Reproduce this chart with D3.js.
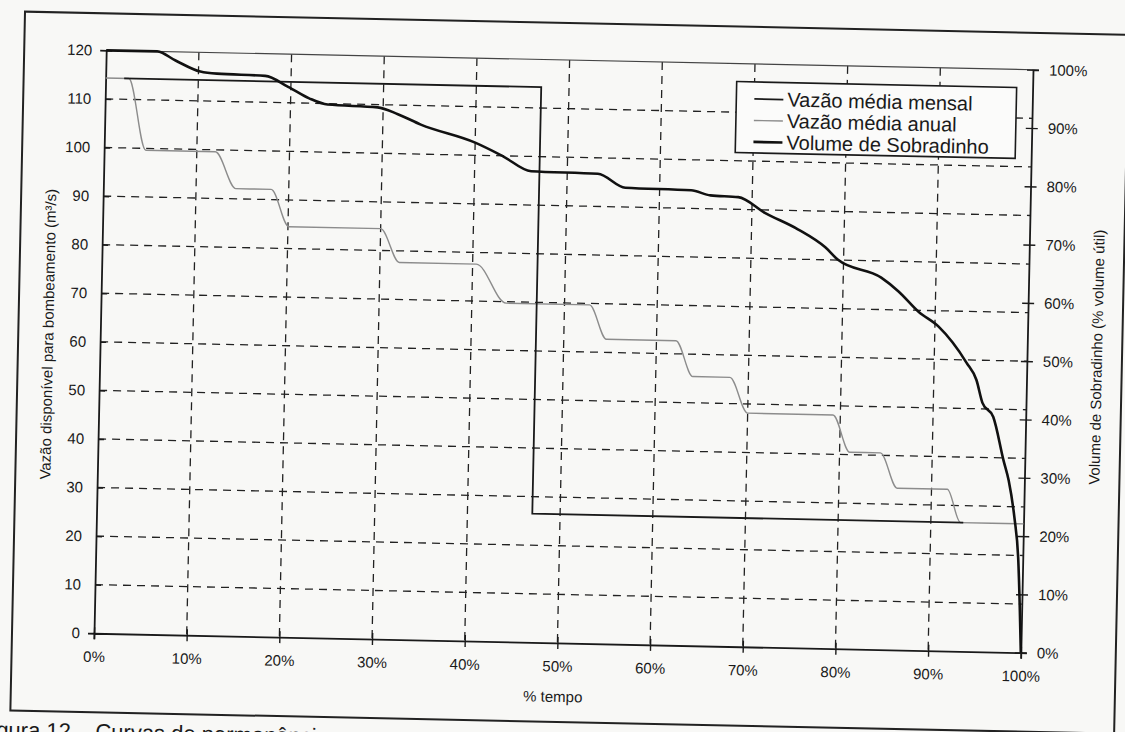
<!DOCTYPE html>
<html>
<head>
<meta charset="utf-8">
<script src="https://cdn.jsdelivr.net/npm/d3@7"></script>
<style>
  html, body { margin: 0; padding: 0; background: #f8f8f6; }
  svg { display: block; }
  text { font-family: "Liberation Sans", Arial, sans-serif; fill: #1a1a1a; }
</style>
</head>
<body>
<div id="chart"></div>
<script>
const width = 1125;
const height = 732;

// % tempo ticks and left / right axis ticks
const tempoTicks = [0, 10, 20, 30, 40, 50, 60, 70, 80, 90, 100];
const vazaoTicks = [0, 10, 20, 30, 40, 50, 60, 70, 80, 90, 100, 110, 120];
const volumeTicks = [0, 10, 20, 30, 40, 50, 60, 70, 80, 90, 100];

// Vazão média mensal (m³/s) vs % tempo
const vazaoMensal = [
  [2, 114.3], [47, 114.3], [47, 26.5], [93.5, 26.5]
];

// Vazão média anual (m³/s) - ends of each plateau
const vazaoAnual = [
  [0, 114.3], [2.5, 114.3], [4.5, 99.6], [12, 99.6], [14.3, 92.1], [18.1, 92.1],
  [20.1, 84.5], [30, 84.5], [32.1, 77.6], [40.4, 77.6], [43.7, 69.7], [52.7, 69.7],
  [54.6, 62.7], [62.1, 62.7], [64, 55.4], [68, 55.4], [70, 48.1], [79.2, 48.1],
  [81.1, 40.5], [84.4, 40.5], [86.3, 33.3], [91.7, 33.3], [93.2, 26.5], [100, 26.5]
];

// Volume de Sobradinho (% volume útil) vs % tempo
const volumeSobradinho = [
  [0, 100], [5.5, 100], [7.5, 98.5], [10.2, 96.7], [12, 96.4], [17.2, 96.2],
  [19.7, 94.4], [22, 92.5], [24, 91.5], [29.4, 91.2], [31.6, 90.1], [34.1, 88.4],
  [40, 85.5], [43, 83.3], [46.1, 80.8], [53.3, 80.6], [56.3, 78.3], [63.4, 78.1],
  [65.5, 77.3], [68.5, 77.1], [71.4, 74.5], [75, 71.8], [78, 68.8], [79.4, 66.7],
  [84.1, 63.8], [86, 61.5], [88.2, 58.1], [90.4, 55.6], [93.5, 49.5], [94.6, 46.6],
  [95.3, 42.7], [96.5, 40.3], [97.7, 32.9], [98.3, 29.5], [99, 23.2], [99.5, 16.3],
  [99.8, 7.3], [100, 0]
];

const legendItems = [
  { label: "Vazão média mensal", color: "#1a1a1a", width: 1.8 },
  { label: "Vazão média anual", color: "#8c8c8c", width: 1.4 },
  { label: "Volume de Sobradinho", color: "#111", width: 2.6 }
];

const plot = { left: 100, right: 1027, top: 60, bottom: 643 };

const x = d3.scaleLinear().domain([0, 100]).range([plot.left, plot.right]);
const yLeft = d3.scaleLinear().domain([0, 120]).range([plot.bottom, plot.top]);
const yRight = d3.scaleLinear().domain([0, 100]).range([plot.bottom, plot.top]);

const svg = d3.select("#chart")
  .append("svg")
  .attr("width", width)
  .attr("height", height);

// the scan is slightly tilted
const page = svg.append("g").attr("transform", "rotate(1.2, 564, 352)");

// outer frame
page.append("rect")
  .attr("x", 18).attr("y", 23)
  .attr("width", 1104).attr("height", 699)
  .attr("fill", "none")
  .attr("stroke", "#222")
  .attr("stroke-width", 2);

// gridlines
const grid = page.append("g")
  .attr("stroke", "#222")
  .attr("stroke-width", 1.3)
  .attr("stroke-dasharray", "8,6");

grid.selectAll("line.h")
  .data(vazaoTicks.filter(d => d > 0 && d < 120))
  .join("line")
  .attr("class", "h")
  .attr("x1", plot.left).attr("x2", plot.right)
  .attr("y1", d => yLeft(d)).attr("y2", d => yLeft(d));

grid.selectAll("line.v")
  .data(tempoTicks.filter(d => d > 0 && d < 100))
  .join("line")
  .attr("class", "v")
  .attr("y1", plot.top).attr("y2", plot.bottom)
  .attr("x1", d => x(d)).attr("x2", d => x(d));

// top border of plot area
page.append("line")
  .attr("x1", plot.left).attr("x2", plot.right)
  .attr("y1", plot.top).attr("y2", plot.top)
  .attr("stroke", "#444")
  .attr("stroke-width", 1.2);

// axes
const leftAxis = page.append("g")
  .attr("transform", `translate(${plot.left},0)`)
  .call(d3.axisLeft(yLeft).tickValues(vazaoTicks).tickSize(6).tickPadding(8));
leftAxis.selectAll(".tick line").attr("x2", 6);

const rightAxis = page.append("g")
  .attr("transform", `translate(${plot.right},0)`)
  .call(d3.axisRight(yRight).tickValues(volumeTicks).tickSize(6).tickPadding(10)
    .tickFormat(d => d + "%"));
rightAxis.selectAll(".tick line").attr("x2", 6).attr("x1", -6);

const bottomAxis = page.append("g")
  .attr("transform", `translate(0,${plot.bottom})`)
  .call(d3.axisBottom(x).tickValues(tempoTicks).tickSize(6).tickPadding(12)
    .tickFormat(d => d + "%"));
bottomAxis.selectAll(".tick line").attr("y1", -6);

[leftAxis, rightAxis, bottomAxis].forEach(a => {
  a.select(".domain").attr("stroke", "#1a1a1a").attr("stroke-width", 1.8);
  a.selectAll(".tick line").attr("stroke", "#1a1a1a").attr("stroke-width", 1.4);
  a.selectAll(".tick text")
    .attr("font-size", 15)
    .attr("font-family", "Liberation Sans, Arial, sans-serif")
    .attr("fill", "#1a1a1a");
});

// series
const lineLeft = d3.line().x(d => x(d[0])).y(d => yLeft(d[1]));
const lineRight = d3.line().x(d => x(d[0])).y(d => yRight(d[1]));

page.append("path")
  .datum(vazaoAnual)
  .attr("d", lineLeft.curve(d3.curveMonotoneX))
  .attr("fill", "none")
  .attr("stroke", legendItems[1].color)
  .attr("stroke-width", legendItems[1].width);

page.append("path")
  .datum(vazaoMensal)
  .attr("d", d3.line().x(d => x(d[0])).y(d => yLeft(d[1])))
  .attr("fill", "none")
  .attr("stroke", legendItems[0].color)
  .attr("stroke-width", legendItems[0].width);

page.append("path")
  .datum(volumeSobradinho)
  .attr("d", lineRight.curve(d3.curveMonotoneX))
  .attr("fill", "none")
  .attr("stroke", legendItems[2].color)
  .attr("stroke-width", legendItems[2].width)
  .attr("stroke-linejoin", "round");

// axis titles
page.append("text")
  .attr("transform", "translate(53,345) rotate(-90)")
  .attr("text-anchor", "middle")
  .attr("font-size", 15)
  .text("Vazão disponível para bombeamento (m³/s)");

page.append("text")
  .attr("transform", "translate(1102,346) rotate(-90)")
  .attr("text-anchor", "middle")
  .attr("font-size", 15)
  .text("Volume de Sobradinho (% volume útil)");

page.append("text")
  .attr("x", 560).attr("y", 702)
  .attr("text-anchor", "middle")
  .attr("font-size", 15)
  .text("% tempo");

// legend
const legend = page.append("g").attr("transform", "translate(731,78)");
legend.append("rect")
  .attr("width", 280).attr("height", 71)
  .attr("fill", "#fbfbfa")
  .attr("stroke", "#1a1a1a")
  .attr("stroke-width", 1.6);

const rows = legend.selectAll("g.row")
  .data(legendItems)
  .join("g")
  .attr("class", "row")
  .attr("transform", (d, i) => `translate(0,${17 + i * 21.5})`);

rows.append("line")
  .attr("x1", 18).attr("x2", 47)
  .attr("stroke", d => d.color)
  .attr("stroke-width", d => d.width);

rows.append("text")
  .attr("x", 51).attr("y", 7)
  .attr("font-size", 20)
  .text(d => d.label);

// caption cut by the bottom of the scan
page.append("text")
  .attr("x", -14).attr("y", 749)
  .attr("font-size", 22)
  .text("Figura 12 – Curvas de permanência");
</script>
</body>
</html>
